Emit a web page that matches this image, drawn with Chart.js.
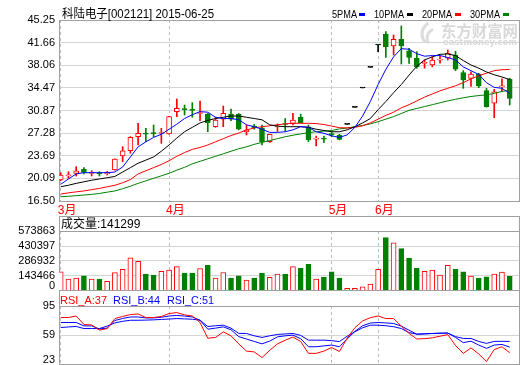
<!DOCTYPE html>
<html><head><meta charset="utf-8">
<script src="https://cdn.jsdelivr.net/npm/chart.js@4.4.0/dist/chart.umd.min.js"></script>
<style>
html,body{margin:0;padding:0;background:#fff;width:520px;height:365px;overflow:hidden}
canvas{position:absolute;left:0;display:block}
</style></head><body>
<canvas id="main" width="520" height="216" style="top:0"></canvas>
<canvas id="vol" width="520" height="75" style="top:216px"></canvas>
<canvas id="rsi" width="520" height="74" style="top:291px"></canvas>
<script>
// ---------- data ----------
const stockName = '科陆电子', stockCode = '002121', dateStr = '2015-06-25';
const monthLabels = ['3月','4月','5月','6月'];
const monthStart = [0,14,35,41];
const maNames = ['5PMA','10PMA','20PMA','30PMA'];

const open = [19.84,20.50,20.90,21.55,20.88,20.84,20.80,21.42,23.65,24.49,
 26.72,27.20,27.30,27.22,27.14,30.69,31.12,31.00,30.40,30.32,
 28.30,29.48,30.32,30.32,27.51,28.41,28.14,25.92,28.25,28.72,
 28.84,29.80,28.30,26.32,26.38,27.20,26.98,28.68,31.38,34.45,
 37.73,41.28,43.03,41.12,42.18,40.37,39.17,38.35,38.10,38.88,
 39.17,39.69,36.88,35.99,36.67,34.02,32.02,34.64,35.83];
const high = [21.00,21.15,21.95,21.80,21.31,21.15,21.20,23.20,25.13,26.72,
 28.84,28.04,28.57,28.04,29.95,32.70,31.75,32.12,32.38,30.40,
 29.80,31.59,31.11,30.40,28.57,28.70,28.57,27.09,28.75,29.60,
 30.43,30.30,28.57,26.83,26.83,27.50,27.10,28.68,31.38,34.45,
 37.73,41.28,43.40,42.87,44.30,40.75,40.21,38.90,39.40,39.50,
 40.50,40.30,37.20,37.00,36.80,34.40,34.24,35.90,36.00];
const low = [19.70,20.10,20.47,20.80,20.47,20.47,20.65,21.40,22.74,24.08,
 25.40,25.92,26.72,25.66,27.10,29.89,30.16,29.80,29.25,27.51,
 28.20,28.30,29.25,27.80,26.98,27.90,25.40,25.80,27.55,27.60,
 28.57,28.90,25.93,25.24,25.76,26.70,26.20,28.68,31.38,34.45,
 37.73,40.20,39.32,39.69,38.26,38.37,37.58,37.60,37.80,38.40,
 38.90,37.20,34.40,34.70,34.50,31.40,29.73,34.00,31.75];
const close = [20.63,20.53,21.30,21.05,20.92,20.80,21.05,23.17,24.45,26.62,
 27.25,27.10,27.20,27.28,29.89,31.22,31.02,30.90,30.45,28.94,
 29.36,30.43,29.48,27.89,27.78,28.14,25.92,27.09,28.30,28.65,
 29.36,28.94,26.19,26.36,26.33,27.00,26.30,28.68,31.38,34.45,
 37.73,41.28,41.01,42.18,41.12,39.32,37.83,38.40,38.90,38.92,
 39.96,37.42,35.72,36.67,34.77,31.48,33.86,34.68,32.81];

const ma5 = [19.15,20.0,20.8,21.0,21.0,21.0,21.0,21.1,21.9,23.5,
 25.1,25.9,26.6,27.1,27.9,28.7,29.6,30.2,30.7,30.6,
 29.8,29.6,29.6,29.4,28.6,28.3,27.9,27.4,27.4,27.5,
 27.8,28.3,28.2,27.5,27.25,26.85,26.6,27.0,28.2,30.0,
 32.3,35.0,37.4,39.4,40.7,40.6,39.9,39.5,39.6,39.6,
 39.3,38.9,37.8,37.2,36.6,35.3,34.55,34.4,33.6];
const ma10 = [18.77,19.0,19.3,19.55,19.8,20.0,20.2,20.4,21.1,21.8,
 22.5,23.0,23.5,24.4,25.4,26.5,27.5,28.2,28.9,29.3,
 29.6,29.8,30.0,30.0,29.8,29.6,29.4,28.6,28.4,28.3,
 28.3,28.3,28.2,27.9,27.7,27.5,27.5,27.8,28.3,28.9,
 29.6,31.0,32.3,33.7,35.0,36.5,37.9,38.9,39.4,39.8,
 39.85,39.6,38.8,38.1,37.6,37.0,36.55,36.2,35.8];
const ma20 = [17.6,17.8,17.95,18.1,18.3,18.5,18.75,19.0,19.4,19.9,
 20.8,21.3,21.8,22.3,22.9,23.6,24.2,24.7,25.0,25.4,
 25.9,26.4,26.9,27.3,27.8,28.1,28.3,28.45,28.6,28.75,
 28.84,28.84,28.84,28.8,28.65,28.4,28.15,28.1,28.2,28.45,
 28.9,29.5,30.1,30.6,31.3,31.8,32.4,33.0,33.5,34.0,
 34.4,34.8,35.3,35.9,36.4,36.8,37.2,37.35,37.4];
const ma30 = [17.18,17.25,17.35,17.45,17.55,17.7,17.9,18.1,18.45,18.85,
 19.3,19.7,20.1,20.5,20.9,21.4,21.85,22.4,22.8,23.2,
 23.6,24.0,24.4,24.8,25.1,25.5,25.8,26.1,26.4,26.7,
 26.95,27.15,27.35,27.5,27.6,27.7,27.95,28.1,28.3,28.5,
 28.75,29.1,29.5,29.9,30.4,30.9,31.2,31.5,31.8,32.1,
 32.4,32.65,32.9,33.1,33.25,33.35,33.6,33.9,34.1];

const volume = [183000,114000,124000,145000,114000,114000,93000,177000,208000,318000,
 283000,161000,152000,189000,199000,233000,171000,171000,215000,246000,
 124000,177000,124000,145000,105000,124000,171000,130000,161000,161000,
 233000,218000,255000,114000,133000,183000,124000,26000,26000,41000,
 67000,208000,511000,461000,405000,314000,218000,189000,199000,152000,
 246000,208000,183000,143000,124000,136000,161000,180000,141299];

const rsiA = [80.7,80.7,82.6,72,71.5,65,67,79.4,82,84.4,
 85.1,80.7,80.7,82,85.6,86.8,84,82.6,74.5,55,
 56,62.9,58,48,39,38,31,40,48,52.5,
 56.5,51,36.2,36.2,39,43.5,38.5,55,68,76.5,
 80.5,82.6,79.4,79.4,70,61,54,54.5,55.5,57.5,
 59.5,46,36.2,43,35.5,26,41,44.4,37];
const rsiB = [74.5,74.5,74.5,70.3,70.3,66.5,67.5,77,79.5,81.4,
 81.4,80.2,80.2,81,82.6,83.3,82.5,81.4,77.3,66.2,
 67.5,69.1,65.5,57,54,51,48,51.4,56.7,58,
 58.8,54.5,44.4,44.4,45.5,46.5,44.4,54,63.5,70.5,
 73.8,74.5,74,73.3,70,65,60,60.3,60.9,61.2,
 61.4,56,49.5,51.3,46.5,42.4,46.5,47.3,44];
const rsiC = [68.3,69,69.6,67,67,67,70,74,76,77.3,
 77.3,77.5,77.8,78.3,78.8,79.4,79,78.6,77.3,69.5,
 70.5,71.2,67.5,61,60.9,58,56,58,59.7,60.3,
 60.9,58.5,52.6,52.6,52.6,52,50.8,57.5,63,68,
 71.2,71.2,70.5,69.3,67,62,60,60.5,60.9,61.2,
 61.4,57,54.7,54.7,51,48.6,51,51.2,51];

const priceTicks = [16.50,20.09,23.69,27.28,30.87,34.47,38.06,41.66,45.25];
const volTicks = [0,143466,286932,430397,573863];
const rsiTicks = [23,59,95];

// ---------- styling ----------
Chart.defaults.font.family = "'Liberation Sans','Noto Sans CJK SC',sans-serif";
Chart.defaults.font.size = 11;
Chart.defaults.color = '#000';
const UP = '#ff0000', DOWN = '#008000', FLAT = '#000000';
const GRID = '#d4d4d4', FRAME = '#a0a0a0', DASH = '#bcbcbc';
const MA_COLORS = ['#0000ff','#000000','#ff0000','#008000'];
const X_MIN = -0.22, X_MAX = 59.33;

const N = close.length;
const idx = close.map((_, i) => i);
const candleColor = idx.map(i => close[i] > open[i] ? UP : (close[i] < open[i] ? DOWN : FLAT));
const bodyFill = idx.map(i => close[i] > open[i] ? '#ffffff' : candleColor[i]);
const volUp = idx.map(i => close[i] >= open[i]);
const volBorder = volUp.map(u => u ? UP : DOWN);
const volFill = volUp.map(u => u ? '#ffffff' : DOWN);

function xAxis(showLabels) {
  return {
    type: 'linear', min: X_MIN, max: X_MAX, offset: false, bounds: 'data',
    afterBuildTicks: s => { s.ticks = monthStart.map(v => ({ value: v })); },
    afterFit: s => { s.height = showLabels ? 15 : 0; s.paddingLeft = 0; s.paddingRight = 0; },
    grid: { display: true, color: DASH, lineWidth: 1, drawTicks: false, offset: false },
    border: { display: false, dash: [3, 3] },
    ticks: { display: showLabels, autoSkip: false, maxRotation: 0, minRotation: 0, align: 'start',
      labelOffset: -3, padding: 2, color: '#ff0000', font: { size: 12 },
      callback: (v, i) => monthLabels[i] }
  };
}
function yAxis(min, max, tickVals, fmt) {
  return {
    type: 'linear', min, max, bounds: 'data', beginAtZero: false,
    afterBuildTicks: s => { s.ticks = tickVals.map(v => ({ value: v })); },
    afterFit: s => { s.width = 59; s.paddingTop = 0; s.paddingBottom = 0; },
    grid: { color: GRID, lineWidth: 1, drawTicks: false },
    border: { display: false },
    ticks: { padding: 4, autoSkip: false, callback: fmt, color: '#000', font: { size: 11 } }
  };
}
function frame(ctx, a, top, bottom) {
  ctx.save();
  ctx.strokeStyle = FRAME; ctx.lineWidth = 1;
  ctx.beginPath();
  ctx.moveTo(a.left + 0.5, top); ctx.lineTo(a.left + 0.5, bottom);
  ctx.moveTo(a.right - 0.5, top); ctx.lineTo(a.right - 0.5, bottom);
  ctx.stroke();
  ctx.restore();
}
function hline(ctx, a, y) {
  ctx.save(); ctx.strokeStyle = FRAME; ctx.lineWidth = 1;
  ctx.beginPath(); ctx.moveTo(a.left, y); ctx.lineTo(a.right, y); ctx.stroke(); ctx.restore();
}
const baseOpts = { responsive: false, animation: false, events: [],
  plugins: { legend: { display: false }, tooltip: { enabled: false } } };

// ---------- main price chart ----------
const mainPlugin = {
  id: 'mainDeco',
  beforeDatasetsDraw(chart) {
    const ctx = chart.ctx, a = chart.chartArea;
    // watermark
    ctx.save();
    ctx.fillStyle = '#d9d9d9';
    ctx.textBaseline = 'middle'; ctx.textAlign = 'left';
    ctx.font = "bold 16px 'Noto Sans CJK SC'";
    ctx.fillText('东方财富网', 441, 31, 77);
    ctx.font = "bold 9px 'DejaVu Sans'";
    ctx.fillText('eastmoney.com', 443, 43, 74);
    ctx.lineWidth = 3; ctx.strokeStyle = '#dcdcdc';
    ctx.beginPath(); ctx.arc(434, 34, 12, Math.PI * 0.75, Math.PI * 1.35); ctx.stroke();
    ctx.beginPath(); ctx.arc(436, 38, 9, Math.PI * 0.8, Math.PI * 1.4); ctx.stroke();
    ctx.restore();
    frame(ctx, a, a.top, a.bottom + 1);
    hline(ctx, a, a.top + 0.5);
    hline(ctx, a, a.bottom + 0.5);
  },
  afterDraw(chart) {
    const ctx = chart.ctx;
    ctx.save();
    ctx.textBaseline = 'middle'; ctx.textAlign = 'left'; ctx.fillStyle = '#000';
    ctx.font = "12px 'Liberation Sans','Noto Sans CJK SC'";
    ctx.fillText(stockName + '[' + stockCode + '] ' + dateStr, 62, 14.5, 152);
    const tx = [332, 374, 422, 470], tw = [25, 30, 30, 30], sx = [359, 407, 455, 503];
    ctx.font = "11px 'Liberation Sans'";
    maNames.forEach((n, k) => {
      ctx.fillStyle = '#000';
      ctx.fillText(n, tx[k], 15, tw[k]);
      ctx.fillStyle = MA_COLORS[k];
      ctx.fillRect(sx[k], 13, 6, 3);
    });
    ctx.restore();
  }
};
const maSets = [ma5, ma10, ma20, ma30].map((arr, k) => ({
  type: 'line', label: maNames[k], order: 0,
  data: arr.map((v, i) => ({ x: i, y: v })),
  borderColor: MA_COLORS[k], borderWidth: 1, pointRadius: 0, fill: false, tension: 0
}));
new Chart(document.getElementById('main'), {
  type: 'bar',
  data: { datasets: [
    ...maSets,
    { type: 'bar', label: 'body', order: 1, data: idx.map(i => ({ x: i, y: [open[i], close[i]] })),
      backgroundColor: bodyFill, borderColor: candleColor, borderWidth: 1, borderSkipped: false,
      barThickness: 5, minBarLength: 1, grouped: false },
    { type: 'bar', label: 'wick', order: 2, data: idx.map(i => ({ x: i, y: [low[i], high[i]] })),
      backgroundColor: candleColor, borderWidth: 0, barThickness: 1, grouped: false }
  ] },
  options: Object.assign({}, baseOpts, {
    layout: { padding: { top: 20, left: 0, right: 0, bottom: 0 } },
    scales: { x: xAxis(true), y: yAxis(16.5, 45.25, priceTicks, v => v.toFixed(2)) }
  }),
  plugins: [mainPlugin]
});

// ---------- volume chart ----------
const volPlugin = {
  id: 'volDeco',
  beforeDatasetsDraw(chart) {
    const ctx = chart.ctx, a = chart.chartArea;
    frame(ctx, a, 0, chart.height);
    hline(ctx, a, 0.5);
    hline(ctx, a, a.top + 0.5);
  },
  afterDraw(chart) {
    const ctx = chart.ctx, a = chart.chartArea;
    hline(ctx, a, chart.height - 0.5);
    ctx.save();
    ctx.textBaseline = 'middle'; ctx.fillStyle = '#000';
    ctx.font = "12px 'Liberation Sans','Noto Sans CJK SC'";
    ctx.textAlign = 'left';
    ctx.fillText('成交量:' + volume[N - 1], 61, 9);
    ctx.font = "11px 'Liberation Sans'";
    ctx.textAlign = 'right';
    ctx.fillText(String(volTicks[0]), 55, 70);
    ctx.restore();
  }
};
new Chart(document.getElementById('vol'), {
  type: 'bar',
  data: { datasets: [
    { label: 'vol', data: idx.map(i => ({ x: i, y: volume[i] })),
      backgroundColor: volFill, borderColor: volBorder, borderWidth: 1, borderSkipped: false,
      barThickness: 5, grouped: false }
  ] },
  options: Object.assign({}, baseOpts, {
    layout: { padding: { top: 15, left: 0, right: 0, bottom: 0 } },
    scales: { x: xAxis(false), y: yAxis(0, 573863, volTicks, v => v === 0 ? null : String(v)) }
  }),
  plugins: [volPlugin]
});

// ---------- RSI chart ----------
const rsiPlugin = {
  id: 'rsiDeco',
  beforeDatasetsDraw(chart) {
    const ctx = chart.ctx, a = chart.chartArea;
    frame(ctx, a, 0, a.bottom + 1);
    hline(ctx, a, a.top + 0.5);
    hline(ctx, a, a.bottom + 0.5);
  },
  afterDraw(chart) {
    const ctx = chart.ctx;
    ctx.save();
    ctx.textBaseline = 'middle'; ctx.textAlign = 'left';
    ctx.font = "11px 'Liberation Sans'";
    const hdr = [['RSI_A:', rsiA, UP, 60], ['RSI_B:', rsiB, '#0000ff', 113], ['RSI_C:', rsiC, '#0000ff', 167]];
    hdr.forEach(h => {
      ctx.fillStyle = h[2];
      ctx.fillText(h[0] + Math.round(h[1][N - 1]), h[3], 9.5, 47);
    });
    ctx.fillStyle = '#000'; ctx.textAlign = 'right';
    ctx.fillText(String(rsiTicks[0]), 55, 69);
    ctx.restore();
  }
};
const rsiColors = [UP, '#0000ff', '#0000ff'];
new Chart(document.getElementById('rsi'), {
  type: 'line',
  data: { datasets: [rsiA, rsiB, rsiC].map((arr, k) => ({
    label: 'RSI' + k, data: arr.map((v, i) => ({ x: i, y: v })),
    borderColor: rsiColors[k], borderWidth: 1, pointRadius: 0, fill: false, tension: 0
  })) },
  options: Object.assign({}, baseOpts, {
    layout: { padding: { top: 15, left: 0, right: 0, bottom: 1 } },
    scales: { x: xAxis(false), y: yAxis(23, 95, rsiTicks, v => v === 23 ? null : String(v)) }
  }),
  plugins: [rsiPlugin]
});
</script>
</body></html>
